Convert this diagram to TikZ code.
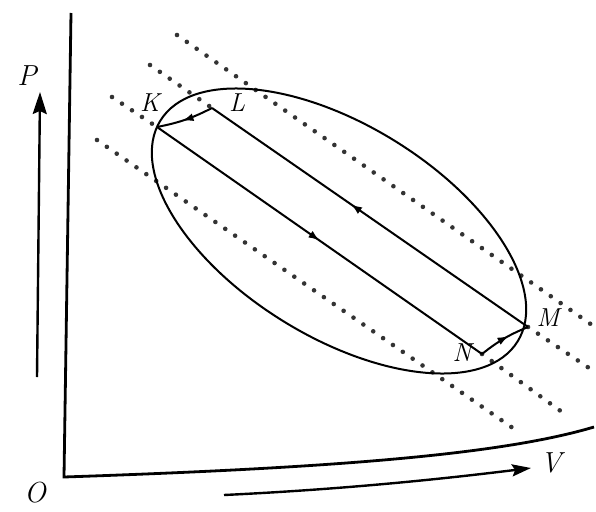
\documentclass[tikz,border=0pt]{standalone}
\usetikzlibrary{arrows.meta,decorations.markings}
\begin{document}
\begin{tikzpicture}[x=1pt,y=-1pt,
  axisline/.style={line width=2.8pt, line join=miter},
  curve/.style={line width=2pt},
  dotline/.style={line width=4.6pt, dash pattern=on 0pt off 12pt, line cap=round, black!80},
  lbl/.style={font=\fontsize{26}{28}\selectfont\itshape, inner sep=0pt},
  biglbl/.style={font=\fontsize{29}{32}\selectfont\itshape, inner sep=0pt},
  midarrow/.style={postaction={decorate},
    decoration={markings, mark=at position #1 with {\arrow{Latex[length=11pt,width=8pt]}}}},
]
\useasboundingbox (0,0) rectangle (596,511);
\fill[white] (0,0) rectangle (596,511);

% key points
\coordinate (K) at (157,127);
\coordinate (L) at (212,108);
\coordinate (M) at (528,327);
\coordinate (N) at (482,354);
% dotted line ends
\coordinate (d1a) at (177,35);  \coordinate (d1b) at (592,325);
\coordinate (d2a) at (150,65);  \coordinate (d2b) at (592,370);
\coordinate (d3a) at (112,97);  \coordinate (d3b) at (562,412);
\coordinate (d4a) at (97,140);  \coordinate (d4b) at (520,433);

% dotted lines
\draw[dotline] (d1a) -- (d1b);
\draw[dotline] (d2a) -- (L);
\draw[dotline] (M) -- (d2b);
\draw[dotline] (d3a) -- (K);
\draw[dotline] (N) -- (d3b);
\draw[dotline] (d4a) -- (d4b);

% ellipse
\draw[curve, shift={(339,231)}, rotate=-31.7] (0,0) ellipse [x radius=210pt, y radius=106pt];

% cycle
\draw[curve, midarrow=0.5] (K) -- (N);
\draw[curve, midarrow=0.56] (M) -- (L);
\draw[curve, midarrow=0.55] (L) to[bend left=8] (K);
\draw[curve, midarrow=0.6] (N) to[bend left=8] (M);

% axes
\coordinate (O) at (64,477);
\coordinate (ytop) at (71,13);
\coordinate (xend) at (594,427);
\draw[axisline] (ytop) -- (O) .. controls (330,468) and (500,455) .. (xend);

% axis direction arrows
\coordinate (pa) at (37,377);
\coordinate (pb) at (40,92);
\draw[line width=2.4pt, -{Stealth[length=22pt,width=14pt,inset=3pt]}] (pa) -- (pb);
\coordinate (va) at (224,495);
\coordinate (vb) at (531,468);
\draw[line width=2.4pt, -{Stealth[length=19pt,width=12pt,inset=3pt]}] (va) .. controls (350,489) and (450,478) .. (vb);

% labels
\node[biglbl] (labP) at (27,76) {P};
\node[biglbl] (labO) at (35,493) {O};
\node[biglbl] (labV) at (551,463) {V};
\node[lbl] (labK) at (150,103) {K};
\node[lbl] (labL) at (237,103) {L};
\node[lbl] (labM) at (548,318) {M};
\node[lbl] (labN) at (462,353) {N};
\end{tikzpicture}
\end{document}
